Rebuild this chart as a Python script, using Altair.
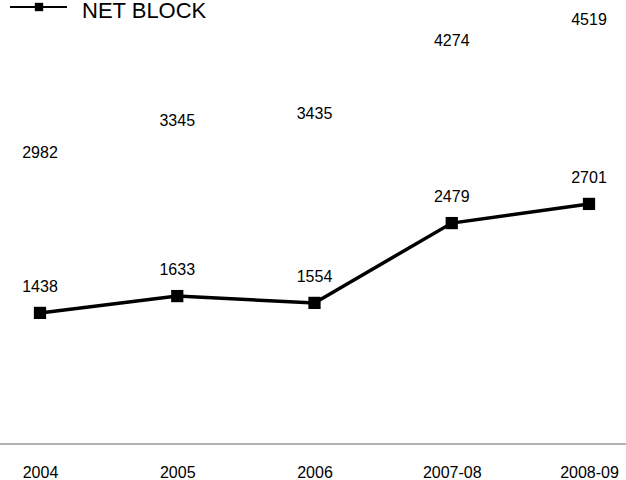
import altair as alt
import pandas as pd

categories = ["2004", "2005", "2006", "2007-08", "2008-09"]
net_block = [1438, 1633, 1554, 2479, 2701]
gross_block = [2982, 3345, 3435, 4274, 4519]

df = pd.DataFrame({"cat": categories, "net": net_block, "gross": gross_block})

FONT = "Liberation Sans"
x = alt.X("cat:N", sort=categories,
          scale=alt.Scale(type="point", padding=0),
          axis=alt.Axis(title=None, domain=False, ticks=False, grid=False,
                        labelAngle=0, labelFont=FONT, labelFontSize=16,
                        labelColor="#000", labelPadding=27))
yscale = alt.Scale(domain=[0, 5064], zero=False, nice=False)

base = alt.Chart(df)

line = base.mark_line(color="#000", strokeWidth=3.5).encode(
    x=x, y=alt.Y("net:Q", scale=yscale, axis=None))
pts = base.mark_point(shape="square", filled=True, size=150, color="#000", opacity=1).encode(
    x=x, y=alt.Y("net:Q", scale=yscale, axis=None))
net_lbl = base.mark_text(font=FONT, fontSize=16, color="#000", dy=-26).encode(
    x=x, y=alt.Y("net:Q", scale=yscale, axis=None), text="net:Q")
gross_lbl = base.mark_text(font=FONT, fontSize=16, color="#000", dy=-27).encode(
    x=x, y=alt.Y("gross:Q", scale=yscale, axis=None), text="gross:Q")

axis_rule = alt.Chart(pd.DataFrame({"a": [0]})).mark_rule(color="#9a9a9a", strokeWidth=1.5).encode(
    x=alt.value(-40), x2=alt.value(586), y=alt.value(444))

leg_line = alt.Chart(pd.DataFrame({"a": [0]})).mark_rule(color="#000", strokeWidth=2).encode(
    x=alt.value(-30), x2=alt.value(27), y=alt.value(7))
leg_pt = alt.Chart(pd.DataFrame({"a": [0]})).mark_point(shape="square", filled=True, size=70,
                                                          color="#000", opacity=1).encode(
    x=alt.value(-1), y=alt.value(7))
leg_txt = alt.Chart(pd.DataFrame({"t": ["NET BLOCK"]})).mark_text(
    font=FONT, fontSize=22, color="#000", align="left", baseline="alphabetic").encode(
    x=alt.value(42), y=alt.value(18), text="t:N")

chart = alt.layer(axis_rule, line, pts, net_lbl, gross_lbl, leg_line, leg_pt, leg_txt).properties(
    width=549, height=437,
    autosize=alt.AutoSizeParams(type="none"),
    padding={"left": 40, "top": 0, "right": 37, "bottom": 43},
    background="#ffffff",
).configure_view(stroke=None)

chart.save("out.html", embed_options={"renderer": "svg", "actions": False})
